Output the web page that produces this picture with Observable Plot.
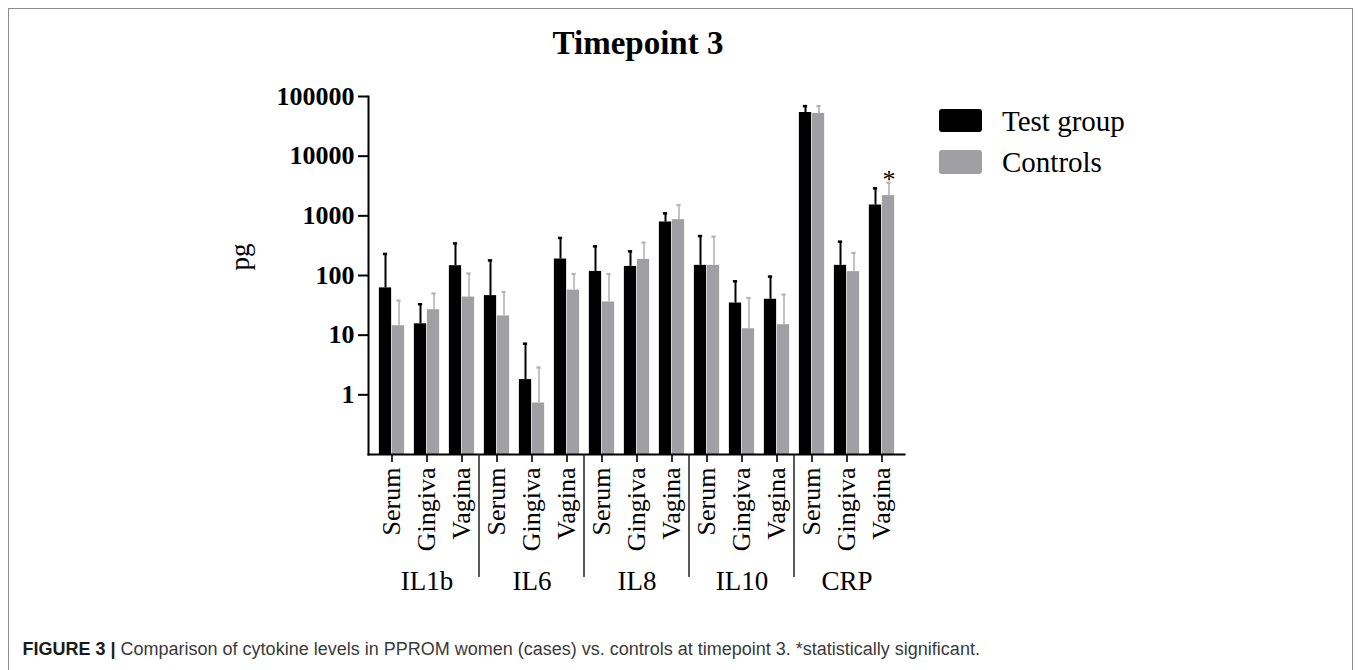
<!DOCTYPE html>
<html>
<head>
<meta charset="utf-8">
<script src="https://cdn.jsdelivr.net/npm/d3@7"></script>
<script src="https://cdn.jsdelivr.net/npm/@observablehq/plot@0.6"></script>
<style>
  html, body { margin: 0; padding: 0; background: #fff; overflow: hidden; width: 1358px; height: 670px; }
  #wrap { position: relative; width: 1358px; height: 670px; }
  #frame { position: absolute; left: 8px; top: 8px; width: 1345px; height: 720px; border: 1.5px solid #8c8c8c; box-sizing: border-box; }
  #chart { position: absolute; left: 0; top: 0; }
  .serif { font-family: "Liberation Serif", "Times New Roman", serif; color: #000; }
  #title { position: absolute; left: 0; width: 1276px; top: 27px; text-align: center; font-size: 33px; line-height: 33px; font-weight: bold; }
  .sw { position: absolute; left: 939px; width: 43px; height: 23.5px; border-radius: 3px; }
  .lt { position: absolute; left: 1002px; font-size: 29px; line-height: 29px; white-space: nowrap; }
  #caption { position: absolute; left: 22.5px; top: 640px; font-family: "Liberation Sans", Arial, sans-serif; font-size: 18px; line-height: 18px; color: #3a3a3a; white-space: nowrap; }
  #caption b { color: #1a1a1a; }
</style>
</head>
<body>
<div id="wrap">
  <div id="frame"></div>
  <div id="chart"></div>
  <div id="title" class="serif">Timepoint 3</div>
  <div class="sw" style="top:108.5px;background:#000;"></div>
  <div class="lt serif" style="top:106.5px;">Test group</div>
  <div class="sw" style="top:150px;background:#a0a0a4;"></div>
  <div class="lt serif" style="top:147.5px;">Controls</div>
  <div id="caption"><b>FIGURE 3 |</b> Comparison of cytokine levels in PPROM women (cases) vs. controls at timepoint 3. *statistically significant.</div>
</div>
<script>
// ---- data ----
const cytokines = ["IL1b", "IL6", "IL8", "IL10", "CRP"];
const sites = ["Serum", "Gingiva", "Vagina"];
// order: for each cytokine, Serum, Gingiva, Vagina
const testMean  = [62, 15.5, 146,   46, 1.8, 189,   117, 142, 789,   148, 34.6, 40,   53900, 148, 1520];
const testUpper = [230, 33, 345,    179, 7.2, 426,  308, 254, 1100,  458, 80, 96,     69000, 369, 2890];
const ctrlMean  = [14.4, 26.7, 43.6, 21, 0.73, 57,  36, 186, 863,    148, 12.8, 15,   52000, 116, 2180];
const ctrlUpper = [38, 50, 108,     53, 2.87, 106,  106, 355, 1510,  448, 42, 48,     69000, 239, 3600];
const yTicks = [1, 10, 100, 1000, 10000, 100000];
const significant = [{cytokine: "CRP", site: "Vagina", label: "*"}];

// ---- build table ----
const rows = [];
cytokines.forEach((c, i) => sites.forEach((s, j) => {
  const k = i * 3 + j;
  rows.push({key: c + "|" + s, cytokine: c, site: s,
    test: testMean[k], testUp: testUpper[k], ctrl: ctrlMean[k], ctrlUp: ctrlUpper[k]});
}));
const keys = rows.map(d => d.key);
const yMin = 0.1;
const groupLabels = cytokines.map(c => ({key: c + "|" + sites[1], label: c}));
const sigRows = significant.map(s => {
  const r = rows.find(d => d.cytokine === s.cytokine && d.site === s.site);
  return {key: r.key, y: r.ctrlUp, label: s.label};
});

const serif = "'Liberation Serif', 'Times New Roman', serif";
const half = 13;       // bar width
const bw2 = 17.87;     // half band

const plot = Plot.plot({
  width: 1358,
  height: 610,
  marginTop: 96,
  marginBottom: 156,
  marginLeft: 368,
  marginRight: 454,
  style: {fontFamily: serif, background: "transparent", overflow: "visible"},
  x: {type: "band", domain: keys, padding: 0},
  y: {type: "log", domain: [yMin, 100000]},
  marks: [
    Plot.rectY(rows, {x: "key", y1: yMin, y2: "test", fill: "#000", insetLeft: bw2 - half, insetRight: bw2}),
    Plot.rectY(rows, {x: "key", y1: yMin, y2: "ctrl", fill: "#a0a0a4", insetLeft: bw2, insetRight: bw2 - half}),
    Plot.ruleX(rows, {x: "key", y1: "test", y2: "testUp", dx: -6.5, stroke: "#000", strokeWidth: 2}),
    Plot.tickY(rows, {x: "key", y: "testUp", dx: -6.5, insetLeft: bw2 - 2.5, insetRight: bw2 - 2.5, stroke: "#000", strokeWidth: 2.5}),
    Plot.ruleX(rows, {x: "key", y1: "ctrl", y2: "ctrlUp", dx: 7, stroke: "#b4b4b6", strokeWidth: 1.6}),
    Plot.tickY(rows, {x: "key", y: "ctrlUp", dx: 7, insetLeft: bw2 - 2.5, insetRight: bw2 - 2.5, stroke: "#b4b4b6", strokeWidth: 2.2}),
    Plot.text(sigRows, {x: "key", y: "y", text: "label", dx: 7, dy: 5, lineAnchor: "bottom", fontSize: 26, fontFamily: serif, fill: "#000"}),
    Plot.axisY({ticks: yTicks, tickFormat: d => String(d), tickSize: 10, tickPadding: 4, tickStrokeWidth: 2, stroke: "#000", strokeWidth: 2,
      fontSize: 26, fontWeight: "bold", fontFamily: serif, label: null}),
    Plot.axisX({tickFormat: d => d.split("|")[1], tickSize: 8, tickPadding: 5, tickRotate: -90, strokeWidth: 1.6,
      fontSize: 26, fontFamily: serif, label: null}),
    Plot.text(groupLabels, {x: "key", frameAnchor: "bottom", dy: 135, text: "label", fontSize: 27, fontFamily: serif, fill: "#000"}),
    Plot.text(["pg"], {frameAnchor: "left", dx: -128, dy: -5, rotate: -90, text: d => d, fontSize: 27, fontFamily: serif, fill: "#000"}),
    Plot.frame({anchor: "left", stroke: "#000", strokeWidth: 2}),
    Plot.frame({anchor: "bottom", stroke: "#000", strokeWidth: 2})
  ]
});
document.getElementById("chart").appendChild(plot);

// group separators below the axis, positioned with the plot's own x scale
const xs = plot.scale("x");
const svg = d3.select(plot);
const yBottom = 610 - 156;
cytokines.slice(1).forEach(c => {
  const xpos = xs.apply(c + "|" + sites[0]);
  svg.append("line")
    .attr("x1", xpos).attr("x2", xpos)
    .attr("y1", yBottom).attr("y2", yBottom + 123)
    .attr("stroke", "#222").attr("stroke-width", 1.5);
});
</script>
</body>
</html>
